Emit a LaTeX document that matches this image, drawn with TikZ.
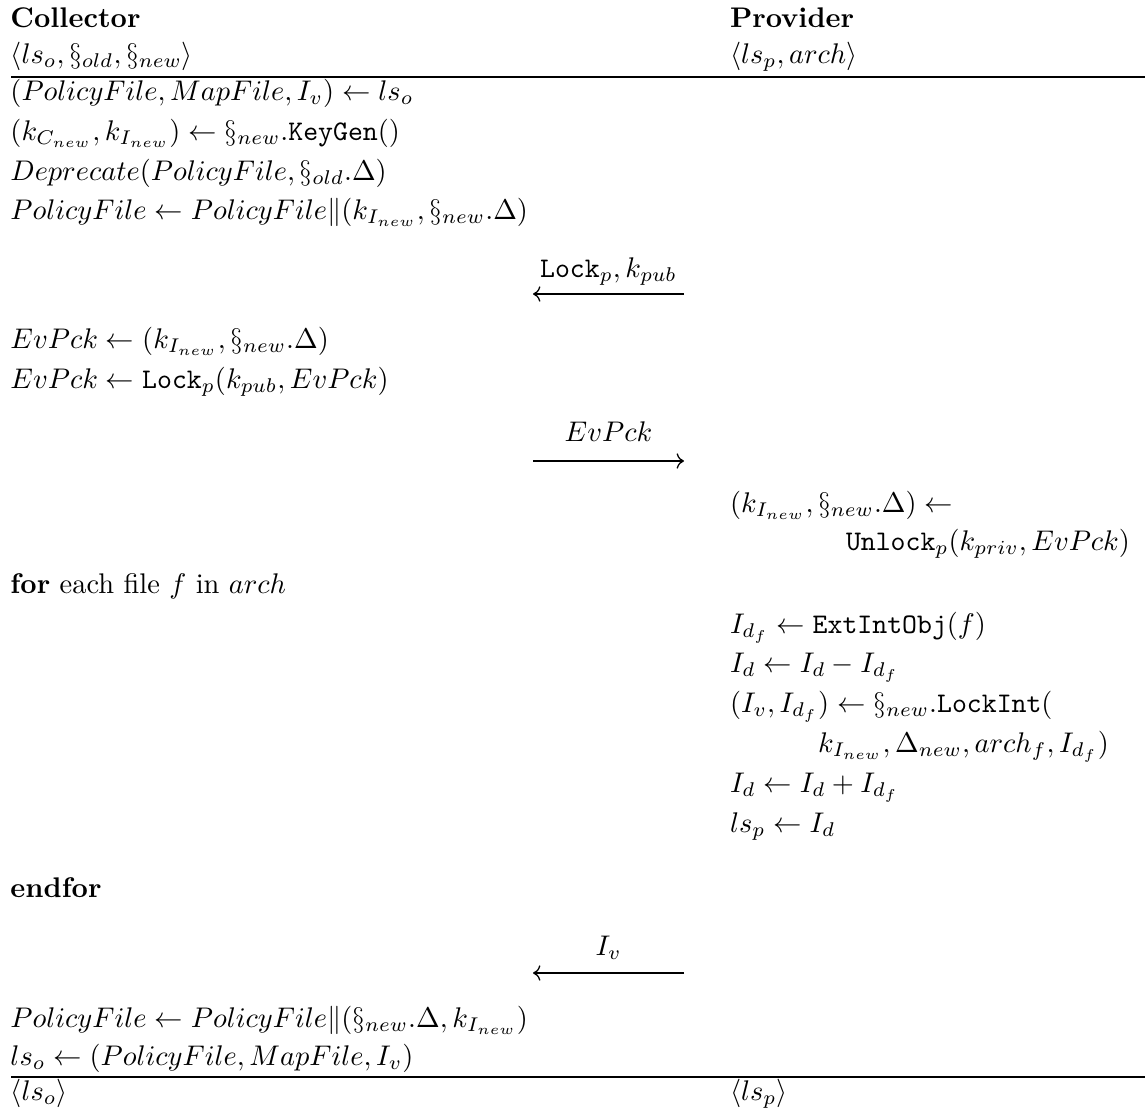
\documentclass[tikz,border=0pt]{standalone}
\usetikzlibrary{arrows.meta}
\begin{document}
\begin{tikzpicture}[x=0.35211pt,y=-0.35211pt,
  txt/.style={anchor=base west, inner sep=0pt, outer sep=0pt},
  lbl/.style={anchor=base, inner sep=0pt, outer sep=0pt},
  hrule/.style={line width=0.45pt},
  msg/.style={line width=0.45pt, -{Computer Modern Rightarrow}},
]
\useasboundingbox (0,0) rectangle (1145,1112);

% party headers
\node[txt] (hc) at (10.5,27) {\textbf{Collector}};
\node[txt] (hp) at (730,27) {\textbf{Provider}};
\node[txt] (ic) at (10.5,63) {$\langle ls_o, \S_{old}, \S_{new}\rangle$};
\node[txt] (ip) at (730,63) {$\langle ls_p, arch\rangle$};
\coordinate (r1a) at (11,77);
\coordinate (r1b) at (1145,77);
\draw[hrule] (r1a) -- (r1b);

% collector: preparation
\node[txt] (c1) at (10.5,100) {$(PolicyFile, MapFile, I_v) \leftarrow ls_o$};
\node[txt] (c2) at (10.5,140) {$(k_{C_{new}}, k_{I_{new}}) \leftarrow \S_{new}.\mathtt{KeyGen}()$};
\node[txt] (c3) at (10.5,180) {$Deprecate(PolicyFile, \S_{old}.\Delta)$};
\node[txt] (c4) at (10.5,219) {$PolicyFile \leftarrow PolicyFile\|(k_{I_{new}}, \S_{new}.\Delta)$};

% message 1: provider -> collector
\coordinate (m1p) at (684,294);
\coordinate (m1c) at (533,294);
\draw[msg] (m1p) -- (m1c);
\node[lbl] (l1) at (608.5,277) {$\mathtt{Lock}_p, k_{pub}$};

\node[txt] (c5) at (10.5,348) {$EvPck \leftarrow (k_{I_{new}}, \S_{new}.\Delta)$};
\node[txt] (c6) at (10.5,388) {$EvPck \leftarrow \mathtt{Lock}_p(k_{pub}, EvPck)$};

% message 2: collector -> provider
\coordinate (m2c) at (533,461);
\coordinate (m2p) at (684,461);
\draw[msg] (m2c) -- (m2p);
\node[lbl] (l2) at (608.5,441) {$EvPck$};

% provider: unlocking
\node[txt] (p1) at (730,512) {$(k_{I_{new}}, \S_{new}.\Delta) \leftarrow$};
\node[txt] (p2) at (846,550) {$\mathtt{Unlock}_p(k_{priv}, EvPck)$};

% loop over the archive
\node[txt] (lf) at (10.5,593) {\textbf{for} each file $f$ in $arch$};
\node[txt] (p3) at (730,633) {$I_{d_f} \leftarrow \mathtt{ExtIntObj}(f)$};
\node[txt] (p4) at (730,672) {$I_d \leftarrow I_d - I_{d_f}$};
\node[txt] (p5) at (730,712) {$(I_v, I_{d_f}) \leftarrow \S_{new}.\mathtt{LockInt}($};
\node[txt] (p6) at (818,752) {$k_{I_{new}}, \Delta_{new}, arch_f, I_{d_f})$};
\node[txt] (p7) at (730,792) {$I_d \leftarrow I_d + I_{d_f}$};
\node[txt] (p8) at (730,832) {$ls_p \leftarrow I_d$};
\node[txt] (le) at (10.5,897) {\textbf{endfor}};

% message 3: provider -> collector
\coordinate (m3p) at (684,973);
\coordinate (m3c) at (533,973);
\draw[msg] (m3p) -- (m3c);
\node[lbl] (l3) at (608.5,955) {$I_v$};

% collector: finalisation
\node[txt] (c7) at (10.5,1027) {$PolicyFile \leftarrow PolicyFile\|(\S_{new}.\Delta, k_{I_{new}})$};
\node[txt] (c8) at (10.5,1065) {$ls_o \leftarrow (PolicyFile, MapFile, I_v)$};
\coordinate (r2a) at (11,1077);
\coordinate (r2b) at (1145,1077);
\draw[hrule] (r2a) -- (r2b);
\node[txt] (oc) at (10.5,1100) {$\langle ls_o\rangle$};
\node[txt] (op) at (730,1100) {$\langle ls_p\rangle$};
\end{tikzpicture}
\end{document}
